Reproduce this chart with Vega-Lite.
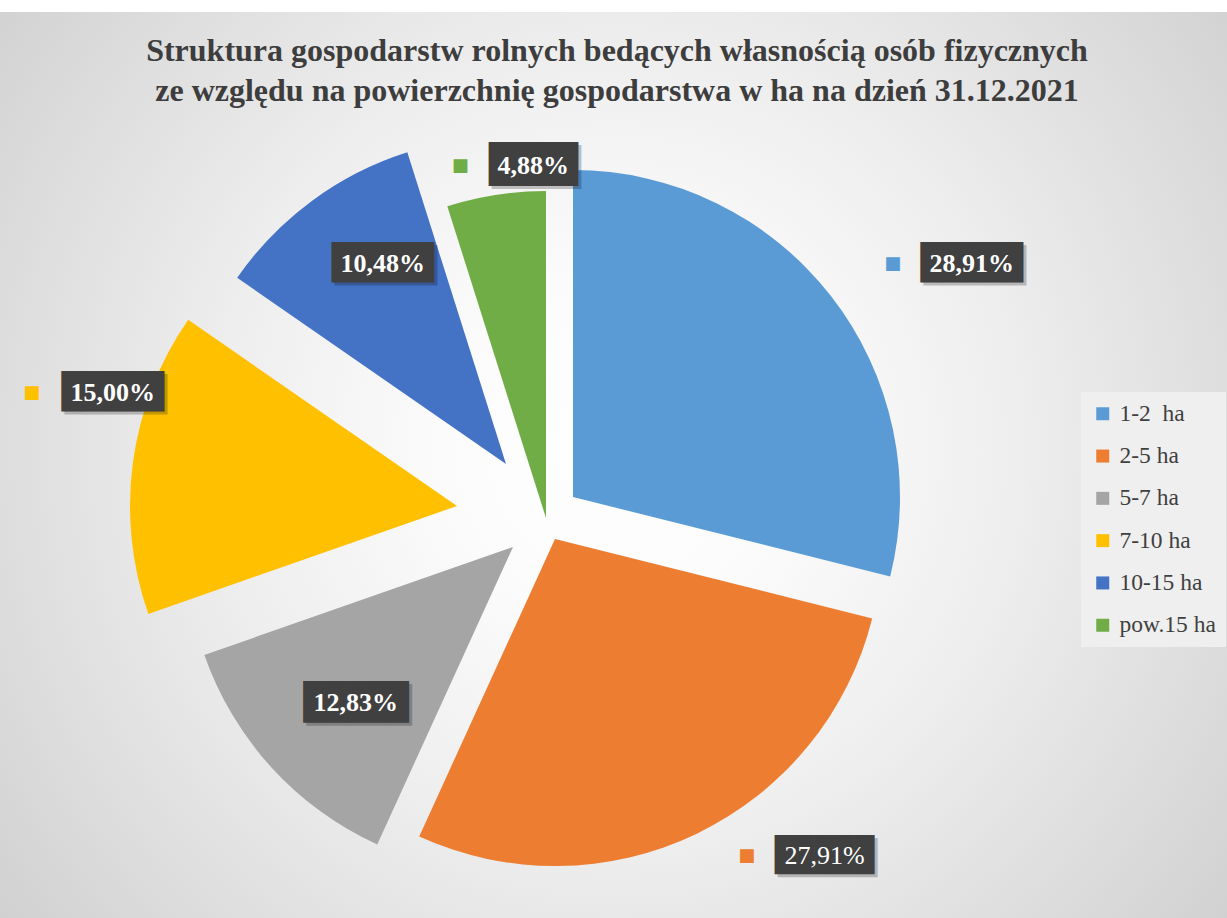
{
  "$schema": "https://vega.github.io/schema/vega-lite/v6.json",
  "width": 1362,
  "height": 1012,
  "autosize": "none",
  "padding": {"left": -135, "top": 12, "right": 0, "bottom": -106},
  "background": "#ffffff",
  "title": {
    "text": ["Struktura gospodarstw rolnych bedących własnością osób fizycznych", "ze względu na powierzchnię gospodarstwa w ha na dzień 31.12.2021"],
    "font": "Liberation Serif",
    "fontSize": 32,
    "fontWeight": "bold",
    "color": "#3d3d3d",
    "lineHeight": 40,
    "anchor": "middle",
    "dx": 71,
    "offset": -96
  },
  "config": {"view": {"stroke": null}},
  "layer": [
    {
      "data": {"values": [{}]},
      "mark": {
        "type": "rect",
        "fill": {
          "gradient": "radial",
          "x1": 0.552, "y1": 0.448, "r1": 0,
          "x2": 0.552, "y2": 0.448, "r2": 0.65,
          "stops": [
            {"offset": 0, "color": "#ffffff"},
            {"offset": 0.2, "color": "#fbfbfb"},
            {"offset": 0.45, "color": "#eeeeee"},
            {"offset": 0.7, "color": "#dddddd"},
            {"offset": 1, "color": "#c8c8c8"}
          ]
        }
      },
      "encoding": {}
    },
    {
      "data": {"values": [
        {"cat": "1-2\u00a0 ha", "share": 28.91, "label": "28,91%"},
        {"cat": "2-5 ha", "share": 27.91, "label": "27,91%"},
        {"cat": "5-7 ha", "share": 12.83, "label": "12,83%"},
        {"cat": "7-10 ha", "share": 15.00, "label": "15,00%"},
        {"cat": "10-15 ha", "share": 10.48, "label": "10,48%"},
        {"cat": "pow.15 ha", "share": 4.88, "label": "4,88%"}
      ]},
      "transform": [
        {"stack": "share", "groupby": [], "as": ["v0", "v1"]},
        {"calculate": "(datum.v0 + datum.v1) / 2", "as": "mid"}
      ],
      "layer": [
        {
          "encoding": {
            "theta": {"field": "v0", "type": "quantitative", "stack": null, "scale": {"domain": [0, 100.01]}},
            "theta2": {"field": "v1"},
            "color": {
              "field": "cat", "type": "nominal",
              "scale": {
                "domain": ["1-2\u00a0 ha", "2-5 ha", "5-7 ha", "7-10 ha", "10-15 ha", "pow.15 ha"],
                "range": ["#5b9bd5", "#ed7d31", "#a5a5a5", "#ffc000", "#4472c4", "#70ad47"]
              },
              "legend": {
                "orient": "none", "legendX": 1216, "legendY": 380,
                "title": null, "symbolType": "square", "symbolSize": 169,
                "symbolStrokeWidth": 0,
                "labelFont": "Liberation Serif", "labelFontSize": 23.5, "labelColor": "#404040",
                "labelOffset": 5, "fillColor": "#efefef", "padding": 10, "rowPadding": 17.3
              }
            }
          },
          "layer": [
            {"transform": [{"filter": "datum.label === '28,91%'"}], "mark": {"type": "arc", "radius": 327, "xOffset": 27, "yOffset": -21}},
            {"transform": [{"filter": "datum.label === '27,91%'"}], "mark": {"type": "arc", "radius": 327, "xOffset": 9, "yOffset": 21}},
            {"transform": [{"filter": "datum.label === '12,83%'"}], "mark": {"type": "arc", "radius": 327, "xOffset": -33, "yOffset": 29}},
            {"transform": [{"filter": "datum.label === '15,00%'"}], "mark": {"type": "arc", "radius": 327, "xOffset": -89, "yOffset": -12}},
            {"transform": [{"filter": "datum.label === '10,48%'"}], "mark": {"type": "arc", "radius": 327, "xOffset": -40, "yOffset": -54}},
            {"transform": [{"filter": "datum.label === '4,88%'"}], "mark": {"type": "arc", "radius": 327, "xOffset": 0, "yOffset": 0}}
          ]
        },
        {
          "transform": [{"filter": "datum.label === '28,91%'"}],
          "encoding": {"theta": {"field": "mid", "type": "quantitative", "stack": null, "scale": {"domain": [0, 100.01]}}},
          "layer": [
            {"mark": {"type": "text", "text": "■", "font": "DejaVu Sans", "fontSize": 18, "fill": "#5b9bd5", "radius": 496, "thetaOffset": 0.124, "dx": -79, "baseline": "middle"}},
            {"mark": {"type": "text", "text": "█████", "font": "DejaVu Sans Mono", "fontSize": 34, "fill": "#000000", "opacity": 0.22, "radius": 496, "thetaOffset": 0.124, "dx": 3, "dy": 3, "baseline": "middle"}},
            {"mark": {"type": "text", "text": "█████", "font": "DejaVu Sans Mono", "fontSize": 34, "fill": "#404040", "radius": 496, "thetaOffset": 0.124, "baseline": "middle"}},
            {"mark": {"type": "text", "font": "Liberation Serif", "fontSize": 26, "fontWeight": "bold", "fill": "#ffffff", "radius": 496, "thetaOffset": 0.124, "baseline": "middle"}, "encoding": {"text": {"field": "label"}}}
          ]
        },
        {
          "transform": [{"filter": "datum.label === '27,91%'"}],
          "encoding": {"theta": {"field": "mid", "type": "quantitative", "stack": null, "scale": {"domain": [0, 100.01]}}},
          "layer": [
            {"mark": {"type": "text", "text": "■", "font": "DejaVu Sans", "fontSize": 18, "fill": "#ed7d31", "radius": 438, "thetaOffset": -0.241, "dx": -78, "baseline": "middle"}},
            {"mark": {"type": "text", "text": "█████", "font": "DejaVu Sans Mono", "fontSize": 33, "fill": "#000000", "opacity": 0.22, "radius": 438, "thetaOffset": -0.241, "dx": 3, "dy": 3, "baseline": "middle"}},
            {"mark": {"type": "text", "text": "█████", "font": "DejaVu Sans Mono", "fontSize": 33, "fill": "#404040", "radius": 438, "thetaOffset": -0.241, "baseline": "middle"}},
            {"mark": {"type": "text", "font": "Liberation Serif", "fontSize": 26, "fill": "#ffffff", "radius": 438, "thetaOffset": -0.241, "baseline": "middle"}, "encoding": {"text": {"field": "label"}}}
          ]
        },
        {
          "transform": [{"filter": "datum.label === '12,83%'"}],
          "encoding": {"theta": {"field": "mid", "type": "quantitative", "stack": null, "scale": {"domain": [0, 100.01]}}},
          "layer": [
            {"mark": {"type": "text", "text": "█████", "font": "DejaVu Sans Mono", "fontSize": 35, "fill": "#000000", "opacity": 0.22, "radius": 265, "thetaOffset": -0.031, "dx": 3, "dy": 3, "baseline": "middle"}},
            {"mark": {"type": "text", "text": "█████", "font": "DejaVu Sans Mono", "fontSize": 35, "fill": "#404040", "radius": 265, "thetaOffset": -0.031, "baseline": "middle"}},
            {"mark": {"type": "text", "font": "Liberation Serif", "fontSize": 26, "fontWeight": "bold", "fill": "#ffffff", "radius": 265, "thetaOffset": -0.031, "baseline": "middle"}, "encoding": {"text": {"field": "label"}}}
          ]
        },
        {
          "transform": [{"filter": "datum.label === '15,00%'"}],
          "encoding": {"theta": {"field": "mid", "type": "quantitative", "stack": null, "scale": {"domain": [0, 100.01]}}},
          "layer": [
            {"mark": {"type": "text", "text": "■", "font": "DejaVu Sans", "fontSize": 18, "fill": "#ffc000", "radius": 451, "thetaOffset": 0.147, "dx": -81, "baseline": "middle"}},
            {"mark": {"type": "text", "text": "█████", "font": "DejaVu Sans Mono", "fontSize": 34, "fill": "#000000", "opacity": 0.22, "radius": 451, "thetaOffset": 0.147, "dx": 3, "dy": 3, "baseline": "middle"}},
            {"mark": {"type": "text", "text": "█████", "font": "DejaVu Sans Mono", "fontSize": 34, "fill": "#404040", "radius": 451, "thetaOffset": 0.147, "baseline": "middle"}},
            {"mark": {"type": "text", "font": "Liberation Serif", "fontSize": 26, "fontWeight": "bold", "fill": "#ffffff", "radius": 451, "thetaOffset": 0.147, "baseline": "middle"}, "encoding": {"text": {"field": "label"}}}
          ]
        },
        {
          "transform": [{"filter": "datum.label === '10,48%'"}],
          "encoding": {"theta": {"field": "mid", "type": "quantitative", "stack": null, "scale": {"domain": [0, 100.01]}}},
          "layer": [
            {"mark": {"type": "text", "text": "█████", "font": "DejaVu Sans Mono", "fontSize": 34, "fill": "#000000", "opacity": 0.22, "radius": 302, "thetaOffset": 0.065, "dx": 3, "dy": 3, "baseline": "middle"}},
            {"mark": {"type": "text", "text": "█████", "font": "DejaVu Sans Mono", "fontSize": 34, "fill": "#404040", "radius": 302, "thetaOffset": 0.065, "baseline": "middle"}},
            {"mark": {"type": "text", "font": "Liberation Serif", "fontSize": 26, "fontWeight": "bold", "fill": "#ffffff", "radius": 302, "thetaOffset": 0.065, "baseline": "middle"}, "encoding": {"text": {"field": "label"}}}
          ]
        },
        {
          "transform": [{"filter": "datum.label === '4,88%'"}],
          "encoding": {"theta": {"field": "mid", "type": "quantitative", "stack": null, "scale": {"domain": [0, 100.01]}}},
          "layer": [
            {"mark": {"type": "text", "text": "■", "font": "DejaVu Sans", "fontSize": 18, "fill": "#70ad47", "radius": 352, "thetaOffset": 0.117, "dx": -73, "baseline": "middle"}},
            {"mark": {"type": "text", "text": "████", "font": "DejaVu Sans Mono", "fontSize": 37, "fill": "#000000", "opacity": 0.22, "radius": 352, "thetaOffset": 0.117, "dx": 3, "dy": 3, "baseline": "middle"}},
            {"mark": {"type": "text", "text": "████", "font": "DejaVu Sans Mono", "fontSize": 37, "fill": "#404040", "radius": 352, "thetaOffset": 0.117, "baseline": "middle"}},
            {"mark": {"type": "text", "font": "Liberation Serif", "fontSize": 26, "fontWeight": "bold", "fill": "#ffffff", "radius": 352, "thetaOffset": 0.117, "baseline": "middle"}, "encoding": {"text": {"field": "label"}}}
          ]
        }
      ]
    }
  ]
}
